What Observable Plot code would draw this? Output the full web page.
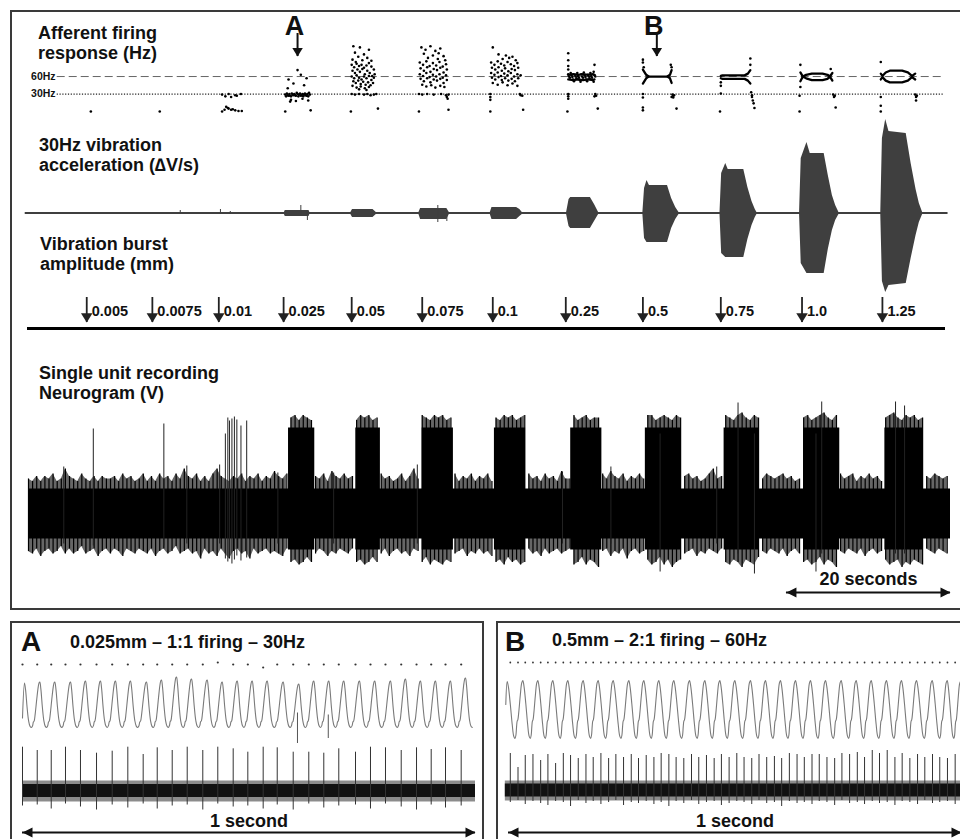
<!DOCTYPE html>
<html><head><meta charset="utf-8">
<script src="https://cdn.jsdelivr.net/npm/d3@7"></script>
<script src="https://cdn.jsdelivr.net/npm/@observablehq/plot@0.6"></script>
<style>
html,body{margin:0;padding:0;background:#fff;}
#fig{position:relative;width:960px;height:839px;overflow:hidden;background:#fff;font-family:"Liberation Sans",Arial,Helvetica,sans-serif;color:#111;}
.lab{position:absolute;font-weight:bold;font-size:18px;white-space:nowrap;color:#111;}
.box{position:absolute;border:2px solid #3a3a3a;box-sizing:border-box;}
</style></head><body><div id="fig"></div>
<script>
// ====================== DATA ======================
// Top panel: time in seconds (20 s scale bar)
const timeDomain = [0, 112.4];
const refLines = [{hz: 60, label: "60Hz"}, {hz: 30, label: "30Hz"}];
const markers = [{label: "A", t: 32.8}, {label: "B", t: 76.6}];

// Afferent firing response (instantaneous rate, Hz), [t, Hz]
const firingIsolated = [[7.6,0],[16.0,0]];
const firingB3 = [[23.6,29],[24.0,26],[24.4,30],[24.7,25],[25.2,28],[25.4,27],[25.9,30],[23.6,0],[23.9,3],[24.1,8],[24.3,6],[24.4,5],[24.7,3],[24.9,4],[25.2,2],[25.6,1],[26.0,1]];
const firingB4 = [[31.3,29],[31.4,26],[31.5,31],[31.6,28],[31.7,27],[31.8,30],[31.9,27],[32.0,26],[32.1,31],[32.2,29],[32.3,28],[32.4,30],[32.5,28],[32.6,27],[32.7,32],[32.8,30],[32.9,26],[33.0,29],[33.1,31],[33.2,27],[33.3,28],[33.4,30],[33.5,26],[33.6,29],[33.7,31],[33.8,28],[33.9,27],[34.0,30],[34.1,26],[34.2,32],[34.3,29],
  [32.8,71],[31.7,55],[32.3,48],[33.2,63],[33.9,57],[33.6,45],[31.6,40],[32.0,20],[32.6,18],[33.4,22],[34.1,19],[31.9,17],[31.3,0],[34.4,2]];
const firingB5 = [[39.6,112],[40.4,110],[41.5,106],[39.8,101],[40.9,98],[40.2,94],[41.3,92],[39.5,89],[40.7,88],[41.8,87],[39.9,85],
  [39.4,80],[39.7,76],[40.0,82],[40.3,78],[40.6,80],[40.9,75],[41.2,79],[41.5,83],[41.8,77],[42.1,72],
  [39.5,70],[39.8,66],[40.1,72],[40.4,68],[40.7,73],[41.0,64],[41.3,70],[41.6,66],[41.9,61],[42.2,64],
  [39.4,60],[39.7,57],[40.0,62],[40.3,58],[40.6,55],[40.9,60],[41.2,57],[41.5,61],[41.8,54],[42.1,58],
  [39.6,52],[39.9,49],[40.2,53],[40.5,47],[40.8,51],[41.1,46],[41.4,50],[41.7,45],[42.0,49],
  [39.5,44],[40.0,41],[40.5,43],[41.0,40],[41.5,42],[40.3,38],[41.2,37],
  [39.4,30],[39.8,29],[40.3,30],[40.9,29],[41.3,30],[41.7,28],[42.1,29],[42.4,30],[39.3,0],[42.6,5]];
const firingB6 = [[47.9,110],[48.4,106],[49.0,112],[49.6,104],[50.2,108],[48.2,99],[49.3,96],[50.0,100],[50.6,95],[48.7,92],[49.9,90],[50.8,88],
  [47.7,84],[48.1,80],[48.5,86],[48.9,78],[49.3,83],[49.7,79],[50.1,85],[50.5,77],[50.9,81],
  [47.8,74],[48.2,70],[48.6,76],[49.0,68],[49.4,73],[49.8,71],[50.2,75],[50.6,67],[51.0,72],
  [47.7,64],[48.1,61],[48.5,66],[48.9,59],[49.3,63],[49.7,60],[50.1,64],[50.5,58],[50.9,62],
  [47.8,56],[48.2,52],[48.6,57],[49.0,50],[49.4,55],[49.8,53],[50.2,56],[50.6,49],[51.0,54],
  [48.0,46],[48.5,43],[49.1,45],[49.6,41],[50.2,44],[50.7,42],
  [47.6,30],[48.0,29],[48.6,30],[49.4,29],[50.3,30],[50.9,28],[51.2,29],[51.0,25],[51.1,22],[47.6,0],[51.2,3]];
const firingB7 = [[56.6,110],[57.3,98],[58.2,96],[59.0,94],[57.8,90],[58.6,92],[59.4,88],
  [56.4,84],[56.8,80],[57.2,86],[57.6,82],[58.0,79],[58.4,85],[58.8,81],[59.2,78],[59.6,83],
  [56.5,75],[56.9,72],[57.3,76],[57.7,70],[58.1,74],[58.5,69],[58.9,73],[59.3,71],[59.7,75],
  [56.4,66],[56.8,63],[57.2,67],[57.6,61],[58.0,65],[58.4,62],[58.8,66],[59.2,60],[59.6,64],[60.0,62],
  [56.5,58],[56.9,55],[57.3,59],[57.7,54],[58.1,57],[58.5,53],[58.9,56],[59.3,52],[59.7,57],
  [56.6,49],[57.2,46],[57.8,50],[58.4,45],[59.0,48],[59.6,44],
  [56.3,30],[56.3,25],[56.3,20],[59.9,30],[60.0,28],[60.2,27],[56.3,0],[60.3,3]];
const firingB8 = [[65.8,64],[66.0,58],[66.2,62],[66.4,55],[66.6,63],[66.8,57],[67.0,61],[67.2,54],[67.4,64],[67.6,58],[67.8,62],[68.0,55],[68.2,63],[68.4,57],[68.6,61],[68.8,54],[69.0,62],
  [65.9,60],[66.3,59],[66.7,60],[67.1,58],[67.5,60],[67.9,59],[68.3,60],[68.7,58],[69.1,60],
  [66.1,66],[66.9,66],[67.7,67],[68.5,66],[66.5,52],[67.3,51],[68.1,52],[68.9,51],
  [65.8,100],[65.8,88],[65.8,78],[65.8,72],[69.0,80],[68.9,68],[65.8,30],[65.8,26],[65.8,22],[69.1,30],[69.2,27],[69.0,26],[65.7,0],[69.4,5]];
const firingB9 = [[74.9,89],[74.9,84],[75.0,76],[78.3,80],[78.4,76],[74.9,30],[74.9,24],[78.5,29],[78.6,27],[78.7,28],[78.4,25],[78.6,24],[74.9,7],[74.9,2],[79.0,5]];
const firingB10 = [[84.4,50],[84.4,44],[84.4,31],[84.3,0],[88.0,91],[88.0,80],[88.1,33],[88.2,28],[88.3,19],[88.4,14],[88.5,6],[88.2,25]];
const firingB11 = [[94.1,80],[94.1,42],[94.0,27],[94.0,0],[97.8,73],[98.2,25],[98.3,27],[98.4,7],[98.1,29]];
const firingB12 = [[103.9,85],[103.9,25],[103.9,10],[103.9,0],[108.2,25],[108.2,19],[108.3,27],[108.1,29]];
// Dense 2:1 firing merges into ribbons / loops, [t, Hz] polylines
const ribbonB8 = [[[65.8,63],[66.4,64],[67.0,63],[67.6,64],[68.2,63],[68.8,64],[69.0,63]], [[65.8,55],[66.4,54],[67.0,55],[67.6,54],[68.2,55],[68.8,54],[69.0,55]]];
const ribbonB9 = [[[74.9,72],[75.3,63],[75.6,60],[77.9,60],[78.2,63],[78.4,71]], [[74.9,48],[75.3,57],[75.6,60]], [[77.9,60],[78.2,57],[78.4,49]]];
const ribbonB10 = [[[84.4,61],[84.6,62],[87.3,62],[87.7,65],[88.0,71]], [[84.4,57],[84.6,56],[87.3,56],[87.7,53],[88.0,48]]];
const ribbonB11 = [[[94.1,67],[94.4,60],[94.8,63],[95.5,65],[96.8,65],[97.4,63],[97.7,60],[98.0,66]], [[94.1,52],[94.4,60],[94.8,57],[95.5,54],[96.8,54],[97.4,56],[97.7,60],[98.0,53]]];
const ribbonB12 = [[[103.9,65],[104.1,61],[104.5,67],[105.0,70],[106.5,70],[107.2,67],[107.7,61],[108.1,65]], [[103.9,55],[104.1,59],[104.5,53],[105.0,50],[106.5,50],[107.2,53],[107.7,59],[108.1,55]]];

// 30 Hz vibration acceleration envelope: [t, upper, lower] (arbitrary ΔV/s units)
const accelEnvelope = [[-0.4,0.9,-0.9],
  [31.2,0.9,-0.9],[31.3,3,-3],[34.2,3,-3],[34.3,0.9,-0.9],
  [39.3,0.9,-0.9],[39.5,4,-4],[42.0,4,-4],[42.4,0.9,-0.9],
  [47.6,0.9,-0.9],[47.8,5,-6],[51.0,5,-6],[51.3,0.9,-0.9],
  [56.3,0.9,-0.9],[56.5,6,-6],[59.5,6,-6],[59.9,4,-3],[60.2,0.9,-0.9],
  [65.6,0.9,-0.9],[65.9,14,-13],[66.1,16,-15],[68.5,16,-15],[69.0,9,-8],[69.5,0.9,-0.9],
  [74.9,0.9,-0.9],[75.1,25,-25],[75.4,33,-29],[75.7,28,-29],[77.9,28,-29],[78.4,15,-15],[78.9,6,-6],[79.3,0.9,-0.9],
  [84.3,0.9,-0.9],[84.5,40,-40],[85.0,50,-44],[85.3,44,-44],[87.2,44,-44],[87.7,26,-26],[88.2,12,-12],[88.6,4,-4],[88.8,0.9,-0.9],
  [94.0,0.9,-0.9],[94.2,55,-50],[94.9,71,-60],[95.3,60,-60],[97.0,60,-60],[97.5,38,-36],[98.0,18,-17],[98.4,8,-7],[98.8,0.9,-0.9],
  [103.9,0.9,-0.9],[104.1,75,-68],[104.5,94,-79],[104.9,82,-72],[107.0,80,-70],[107.6,50,-45],[108.2,24,-22],[108.6,10,-9],[109.0,0.9,-0.9],
  [112.1,0.9,-0.9]];
const accelSpikes = [[18.5,3,0],[23.4,4,-1],[24.6,2,-1],[33.2,8,-2],[34.0,2,-7],[49.9,8,-9],[51.0,2,-8]];

// Vibration burst amplitudes (mm) and onset times (s)
const ampLabels = ["0.005","0.0075","0.01","0.025","0.05","0.075","0.1","0.25","0.5","0.75","1.0","1.25"];
const ampTimes = [7.1,15.1,23.2,31.1,39.4,48.0,56.6,65.5,74.9,84.4,94.3,104.1];

// Neurogram (V, arbitrary units): burst intervals, core levels, fringe estimates
const neuroBursts = [[31.7,34.9],[39.9,42.9],[48.0,51.8],[56.8,60.6],[66.1,69.9],[75.2,79.6],[84.8,89.1],[94.5,98.9],[104.4,109.0]];
const neuroCoreRest = [25, -25];
const neuroCoreBurst = [86, -36];
const neuroFringeStep = 0.5; // seconds per character below
const neuroFringeTop = "4353546348"+"5436435354"+"4536453463"+"5364536485"+"4635368543"+"5463546354"+"7546453543"+"5463754645"+"3545346453"+"4635845435"+"4534635463"+"5463435453"+"4564536453"+"7445345344"+"6475463546"+"4553454354"+"5645346845"+"5435643544"+"6545645344"+"5345643564"+"5635464534"+"5643545345"+"46545";
const neuroFringeBottom = "5647546536"+"4653654754"+"6457456456"+"4754653654"+"6584657468"+"5465846546"+"5674546535"+"6457564564"+"5465356475"+"4657455364"+"5645654756"+"4657546354"+"6546574654"+"6546536457"+"5475648546"+"5465364754"+"6547564564"+"5645745635"+"6456475465"+"4653645756"+"4564754654"+"6547564564"+"56456";
const neuroSpikes = [[4.3,47,-30],[7.9,85,-32],[16.5,90,-32],[19.3,48,-30],[23.3,49,-30],[24.0,80,-45],[24.3,96,-48],[24.5,93,-44],[24.8,95,-50],[25.1,97,-46],[25.4,94,-42],[25.9,88,-47],[26.6,93,-44],
  [30.4,41,-30],[37.2,41,-30],[47.4,49,-30],[65.1,42,-30],[71.0,47,-30],[83.9,47,-30],
  [86.5,111,-40],[96.7,112,-40],[105.7,112,-40],[106.8,108,-40],[77.0,80,-58],[88.5,80,-60],[96.0,80,-58]];
const scaleBar = {start: 92.4, seconds: 20, label: "20 seconds"};

// Panel A (0.025 mm, 1:1 firing, 30 Hz) — times in ms over 1 s
const spikeA = [0,32.5,63.4,94.9,128.0,163.4,198.0,232.5,266.4,297.4,330.5,363.6,398.0,431.1,465.1,497.4,531.3,562.3,597.6,632.0,665.1,698.2,735.1,768.2,801.3,836.0,869.8,902.2,933.8,968.4];
const spikeHighA = [43.8,40.5,40.5,43.8,40.5,37.8,39.8,43.8,36.5,43.2,40.5,43.8,40.5,43.8,42.2,38.8,43.8,43.2,38.8,38.8,37.8,42.2,38.8,43.8,43.2,40.5,43.2,41.5,43.2,40.5];
const spikeLowA = [-15,-14,-18,-13,-16,-19,-14,-17,-13,-18,-15,-14,-19,-13,-16,-15,-18,-14,-19,-13,-17,-15,-14,-18,-13,-16,-19,-14,-17,-15];
const dotLiftA = [0,0,0,0,0,0,0,0,0,0,0,0,0,2,0,0,-3,0,0,0,0,0,0,0,0,0,0,0,0,0];
const wavePeaksA = [4.4,38.2,71.3,106.0,139.1,172.2,205.3,238.4,273.7,306.8,340.0,373.1,407.7,440.8,474.0,507.1,540.2,575.5,609.9,643.0,676.2,709.3,743.9,777.7,812.4,845.5,878.6,911.7,944.8,977.9];
const wavePeakHeightA = [22,23,23,23,24,24,24,24,23,25,28,26,25,23,24,24,24,23,21,24,24,24,24,24,24,26,24,24,24,27];
const waveTroughA = -22.5;
const waveShapeA = [[0,1],[0.07,0.85],[0.17,0.45],[0.27,0.15],[0.36,0.03],[0.45,0],[0.53,0.04],[0.58,0.12],[0.63,0.14],[0.70,0.3],[0.80,0.62],[0.90,0.9],[0.96,0.99]];
const waveStartA = {t: 0, v: -13};
const waveEndA = 0.993;
const waveArtifactsA = [[0.607,-8,-38.5],[0.675,-10,-33.5]];
const noiseBandA = {start: 0, end: 1, core: 6.5, fringeTop: 10, fringeBottom: 11};

// Panel B (0.5 mm, 2:1 firing, 60 Hz)
const spikeB = [4,21,37,54,71,87,104,121,137,154,171,187,204,221,237,254,271,287,304,321,337,354,370,387,404,420,437,454,470,487,504,520,537,553,570,587,603,620,637,653,670,686,703,720,736,753,770,786,803,819,836,853,869,886,903,919,936,952,969,986];
const spikeHighB = [37,23,35,36,30,36,27,37,35,32,36,33,37,32,36,33,36,32,35,33,37,36,33,32,36,33,35,32,36,33,37,33,32,36,33,34,32,37,36,33,36,36,33,32,37,36,38,33,40,37,40,33,37,32,36,33,36,33,32,36];
const spikeLowB = [-12,-10,-14,-11,-13,-15,-11,-12,-16,-10,-13,-11,-14,-12,-10,-15,-12,-13,-11,-14,-12,-16,-11,-13,-10,-14,-12,-11,-15,-13,-11,-12,-14,-10,-13,-12,-16,-11,-13,-12,-14,-11,-12,-15,-10,-13,-12,-14,-11,-13,-12,-15,-11,-12,-14,-10,-13,-12,-11,-14];
const wavePeaksB = [-2.9,31.6,64.7,97.8,130.9,164.8,197.9,231.1,265.6,298.7,331.8,364.9,399.6,433.4,466.5,499.6,534.2,567.3,600.4,633.6,666.7,699.8,734.4,767.5,800.7,834.4,867.5,900.7,935.3,968.4,997.8];
const wavePeakHeightB = [28,29,29,29,29,29,29,29,29,29,29,29,29,29,29,29,29,29,29,29,29,29,29,29,29,29,29,29,29,29,28];
const waveTroughB = -29;
const waveShapeB = [[0,1],[0.08,0.9],[0.2,0.6],[0.32,0.25],[0.42,0.04],[0.5,0],[0.56,0.06],[0.6,0.2],[0.64,0.3],[0.68,0.32],[0.74,0.45],[0.84,0.75],[0.93,0.96]];
const waveStartB = {t: -0.006, v: 5};
const waveEndB = 1.02;
const noiseBandB = {start: -0.007, end: 1.02, core: 6.5, fringeTop: 9.5, fringeBottom: 10.5};
const oneSecond = {start: 0, seconds: 1, label: "1 second"};

// ====================== BUILD ======================
const fig = document.getElementById("fig");
const FONT = '"Liberation Sans", Arial, Helvetica, sans-serif';
const baseStyle = {background: "transparent", overflow: "visible", fontFamily: FONT, color: "#111"};
function place(el, left, y) { el.style.position = "absolute"; el.style.left = left + "px"; el.style.top = y + "px"; fig.appendChild(el); }
function box(left, y, w, h, bw) { const d = document.createElement("div"); d.className = "box"; Object.assign(d.style, {left: left+"px", top: y+"px", width: w+"px", height: h+"px", borderWidth: bw+"px"}); fig.appendChild(d); }
function label(html, left, y, size, lh) { const d = document.createElement("div"); d.className = "lab"; d.innerHTML = html; Object.assign(d.style, {left: left+"px", top: y+"px", fontSize: size+"px", lineHeight: lh+"px"}); fig.appendChild(d); }

// arrow-head symbols with the tip at the anchor point
const headDown = {draw(c, s) { const h = Math.sqrt(s/Math.PI)*2, w = h*1.25; c.moveTo(0,0); c.lineTo(-w/2,-h); c.lineTo(w/2,-h); c.closePath(); }};
const headRight = {draw(c, s) { const h = Math.sqrt(s/Math.PI)*2, w = h; c.moveTo(0,0); c.lineTo(-h,-w/2); c.lineTo(-h,w/2); c.closePath(); }};
const headLeft = {draw(c, s) { const h = Math.sqrt(s/Math.PI)*2, w = h; c.moveTo(0,0); c.lineTo(h,-w/2); c.lineTo(h,w/2); c.closePath(); }};

box(10, 10, 970, 600, 2);
box(10, 621, 474, 240, 2);
box(496, 621, 480, 240, 2);

const topOpts = {width: 960, marginLeft: 28, marginRight: 10, marginTop: 0, marginBottom: 0, x: {domain: timeDomain, axis: null}, style: baseStyle};

// A / B markers
place(Plot.plot({...topOpts, height: 46, marginTop: 21, marginBottom: 2, marks: [
  Plot.ruleX(markers, {x: "t", stroke: "#111", strokeWidth: 2}),
  Plot.dot(markers, {x: "t", frameAnchor: "bottom", symbol: headDown, r: 4.2, fill: "#111", stroke: null}),
  Plot.text(markers, {x: "t", text: "label", frameAnchor: "top", lineAnchor: "bottom", dx: -3, dy: 1, fontSize: 27, fontWeight: "bold", fill: "#111"})
]}), 0, 12);

// Firing response scatter
const firingDots = [firingIsolated, firingB3, firingB4, firingB5, firingB6, firingB7, firingB8, firingB9, firingB10, firingB11, firingB12].flat();
const ribbonPts = [ribbonB8, ribbonB9, ribbonB10, ribbonB11, ribbonB12].flat().flatMap((line, id) => line.map(([t, hz]) => ({id, t, hz})));
place(Plot.plot({...topOpts, height: 80, y: {domain: [-15.4, 121.8], axis: null}, marks: [
  Plot.ruleY(refLines.filter(d => d.hz === 60), {y: "hz", x1: 3.5, x2: 111.6, stroke: "#666", strokeWidth: 1, strokeDasharray: "8,4"}),
  Plot.ruleY(refLines.filter(d => d.hz === 30), {y: "hz", x1: 3.5, x2: 111.6, stroke: "#222", strokeWidth: 1.2, strokeDasharray: "1.2,1.6"}),
  Plot.text(refLines, {y: "hz", x: 3.3, text: "label", textAnchor: "end", fontSize: 10.5, fontWeight: "bold", fill: "#111"}),
  Plot.line(ribbonPts, {x: "t", y: "hz", z: "id", stroke: "#000", strokeWidth: 2.3}),
  Plot.dot(firingDots, {x: d => d[0], y: d => d[1], r: 1.3, fill: "#000", stroke: null})
]}), 0, 40);

// Vibration acceleration
place(Plot.plot({...topOpts, height: 200, y: {domain: [-97, 103], axis: null}, marks: [
  Plot.areaY(accelEnvelope, {x: d => d[0], y1: d => d[2], y2: d => d[1], fill: "#3f3f3f"}),
  Plot.ruleX(accelSpikes, {x: d => d[0], y1: d => d[2], y2: d => d[1], stroke: "#3f3f3f", strokeWidth: 1})
]}), 0, 110);

// Burst amplitude arrows
const amplitudes = ampLabels.map((lab, i) => ({label: lab, t: ampTimes[i]}));
place(Plot.plot({...topOpts, height: 33, marginTop: 4, marginBottom: 4, marks: [
  Plot.ruleX(amplitudes, {x: "t", stroke: "#222", strokeWidth: 1.8}),
  Plot.dot(amplitudes, {x: "t", frameAnchor: "bottom", symbol: headDown, r: 4.6, fill: "#222", stroke: null}),
  Plot.text(amplitudes, {x: "t", text: "label", frameAnchor: "middle", dx: 5, dy: 1, textAnchor: "start", fontSize: 14.5, fontWeight: "bold", fill: "#111"})
]}), 0, 293);

// separator
const sep = document.createElement("div"); Object.assign(sep.style, {position: "absolute", left: "27px", top: "327px", width: "918px", height: "3px", background: "#000"}); fig.appendChild(sep);

// Neurogram
function inBurst(t) { return neuroBursts.some(([a, b]) => t >= a && t <= b); }
const nFringe = Math.min(neuroFringeTop.length, neuroFringeBottom.length);
const neuroFringe = [];
{ let seg = 0, prev = null;
  for (let i = 0; i < nFringe; i++) {
    const t = i * neuroFringeStep, b = inBurst(t), core = b ? neuroCoreBurst : neuroCoreRest;
    if (prev !== null && b !== prev) seg++;
    prev = b;
    neuroFringe.push({t, seg, hi: core[0] + 2.5 * +neuroFringeTop[i], lo: core[1] - 2.5 * +neuroFringeBottom[i]});
  } }
const neuroCore = [[0, ...neuroCoreRest]];
for (const [a, b] of neuroBursts) neuroCore.push([a, ...neuroCoreRest], [a, ...neuroCoreBurst], [b, ...neuroCoreBurst], [b, ...neuroCoreRest]);
neuroCore.push([timeDomain[1], ...neuroCoreRest]);
place(Plot.plot({...topOpts, height: 200, y: {domain: [-86.5, 113.5], axis: null}, marks: [
  Plot.areaY(neuroFringe, {x: "t", y1: "lo", y2: "hi", z: "seg", fill: "#000", fillOpacity: 0.6}),
  Plot.ruleX(neuroFringe, {x: "t", y1: "lo", y2: "hi", stroke: "#000", strokeWidth: 1.2}),
  Plot.areaY(neuroCore, {x: d => d[0], y1: d => d[2], y2: d => d[1], fill: "#000"}),
  Plot.ruleX(neuroSpikes, {x: d => d[0], y1: d => d[2], y2: d => d[1], stroke: "#222", strokeWidth: 1})
]}), 0, 400);

// 20 s scale bar
place(Plot.plot({...topOpts, height: 28, y: {domain: [-1, 1], axis: null}, marks: [
  Plot.ruleY([scaleBar], {x1: "start", x2: d => d.start + d.seconds, y: 0, stroke: "#111", strokeWidth: 2}),
  Plot.dot([scaleBar], {x: "start", y: 0, symbol: headLeft, r: 5, fill: "#111", stroke: null}),
  Plot.dot([scaleBar], {x: d => d.start + d.seconds, y: 0, symbol: headRight, r: 5, fill: "#111", stroke: null}),
  Plot.text([scaleBar], {x: d => d.start + d.seconds / 2, y: 0, text: "label", dy: -13, fontSize: 18, fontWeight: "bold", fill: "#111"})
]}), 0, 578);

// ---------- Lower panels ----------
function buildWave(peaks, heights, trough, shape, start, endT) {
  const pts = [start];
  for (let k = 0; k < peaks.length; k++) {
    const next = k + 1 < peaks.length;
    const period = (next ? peaks[k+1] - peaks[k] : peaks[k] - peaks[k-1]) / 1000;
    for (const [ph, v] of shape) {
      const t = peaks[k] / 1000 + ph * period;
      if (t > endT) break;
      const pk = ph < 0.5 ? heights[k] : (next ? heights[k+1] : heights[k]);
      pts.push({t, v: trough + v * (pk - trough)});
    }
  }
  return pts;
}
function lowerPanel(o) {
  const base = {width: o.width, marginLeft: o.ml, marginRight: o.mr, marginTop: 0, marginBottom: 0, x: {domain: [0, 1], axis: null}, style: baseStyle};
  const spikes = o.spikes.map((ms, i) => ({t: ms / 1000, hi: o.high[i], lo: o.low[i], lift: o.lift ? o.lift[i] : 0}));
  place(Plot.plot({...base, height: 18, y: {domain: [-9, 9], axis: null}, marks: [
    Plot.dot(spikes, {x: "t", y: "lift", r: o.dotR, fill: "#333", stroke: null})
  ]}), o.left, o.dotTop);
  const wave = buildWave(o.peaks, o.peakH, o.trough, o.shape, o.start, o.end);
  place(Plot.plot({...base, height: 75, y: {domain: o.waveDomain, axis: null}, marks: [
    Plot.line(wave, {x: "t", y: "v", stroke: "#7a7a7a", strokeWidth: 1.1, curve: "catmull-rom"}),
    Plot.ruleX(o.artifacts, {x: d => d[0], y1: d => d[2], y2: d => d[1], stroke: "#555", strokeWidth: 1})
  ]}), o.left, 672);
  const band = [{t: o.band.start}, {t: o.band.end}];
  place(Plot.plot({...base, height: 75, y: {domain: o.neuroDomain, axis: null}, marks: [
    Plot.areaY(band, {x: "t", y1: -o.band.fringeBottom, y2: o.band.fringeTop, fill: "#000", fillOpacity: 0.45}),
    Plot.areaY(band, {x: "t", y1: -o.band.core, y2: o.band.core, fill: "#111"}),
    Plot.ruleX(spikes, {x: "t", y1: "lo", y2: "hi", stroke: "#333", strokeWidth: 1})
  ]}), o.left, 740);
  place(Plot.plot({...base, height: 20, y: {domain: [-1, 1], axis: null}, marks: [
    Plot.ruleY([oneSecond], {x1: "start", x2: d => d.start + d.seconds, y: 0, stroke: "#111", strokeWidth: 2}),
    Plot.dot([oneSecond], {x: "start", y: 0, symbol: headLeft, r: 5, fill: "#111", stroke: null}),
    Plot.dot([oneSecond], {x: d => d.start + d.seconds, y: 0, symbol: headRight, r: 5, fill: "#111", stroke: null}),
    Plot.text([oneSecond], {x: d => d.start + d.seconds / 2, y: 0, text: "label", dy: -11, fontSize: 18, fontWeight: "bold", fill: "#111"})
  ]}), o.left, 822);
}
lowerPanel({left: 0, width: 490, ml: 22, mr: 15, spikes: spikeA, high: spikeHighA, low: spikeLowA, lift: dotLiftA, dotR: 1.1, dotTop: 655,
  peaks: wavePeaksA, peakH: wavePeakHeightA, trough: waveTroughA, shape: waveShapeA, start: waveStartA, end: waveEndA,
  waveDomain: [-42.5, 32.5], artifacts: waveArtifactsA, neuroDomain: [-24.5, 50.5], band: noiseBandA});
lowerPanel({left: 490, width: 480, ml: 18, mr: 9, spikes: spikeB, high: spikeHighB, low: spikeLowB, lift: null, dotR: 0.9, dotTop: 653,
  peaks: wavePeaksB, peakH: wavePeakHeightB, trough: waveTroughB, shape: waveShapeB, start: waveStartB, end: waveEndB,
  waveDomain: [-38, 37], artifacts: [], neuroDomain: [-25, 50], band: noiseBandB});

// ---------- Text labels ----------
label("Afferent firing<br>response (Hz)", 38, 23, 18, 20);
label("30Hz vibration<br>acceleration (∆V/s)", 39, 134.5, 18, 20.5);
label("Vibration burst<br>amplitude (mm)", 40, 234, 18, 20);
label("Single unit recording<br>Neurogram (V)", 39, 363, 18, 20);
label("A", 21, 628, 28, 28);
label("0.025mm – 1:1 firing – 30Hz", 70, 632.5, 18, 18);
label("B", 505, 628, 28, 28);
label("0.5mm – 2:1 firing – 60Hz", 552, 630.5, 18, 18);
</script></body></html>
